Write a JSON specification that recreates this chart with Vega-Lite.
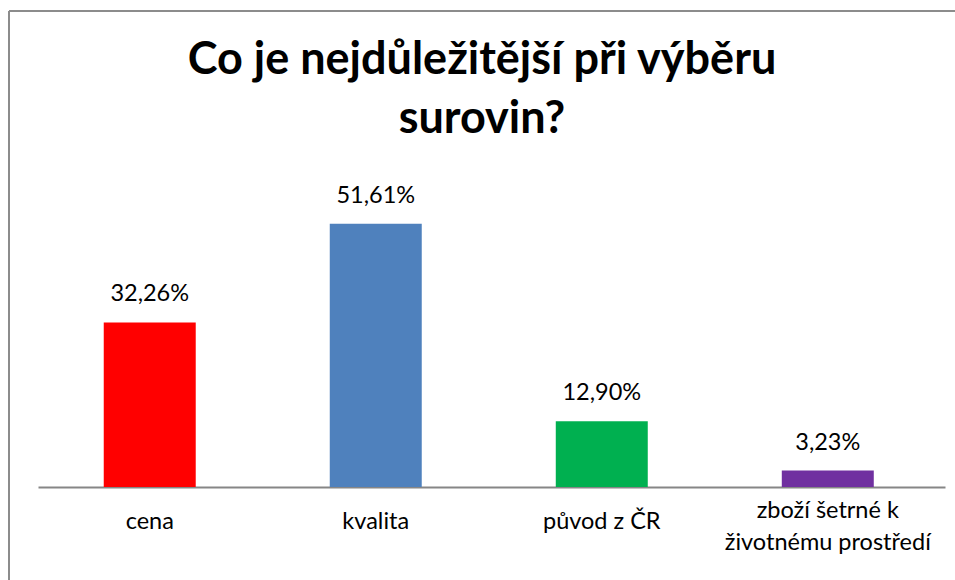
{
  "$schema": "https://vega.github.io/schema/vega-lite/v6.json",
  "width": 946,
  "height": 569,
  "autosize": {"type": "none"},
  "padding": {"left": 9, "top": 11, "right": 0, "bottom": 0},
  "background": "white",
  "config": {
    "view": {"stroke": "#8c8c8c", "strokeWidth": 2, "strokeDash": [946, 1515, 569, 0]},
    "locale": {"number": {"decimal": ",", "thousands": " ", "grouping": [3], "currency": ["", " Kč"]}}
  },
  "title": {
    "text": ["Co je nejdůležitější při výběru", "surovin?"],
    "font": "Lato",
    "fontSize": 45,
    "fontWeight": "bold",
    "color": "#000000",
    "anchor": "middle",
    "lineHeight": 59,
    "baseline": "top",
    "offset": -131
  },
  "data": {
    "values": [
      {"kategorie": "cena", "podil": 0.3226},
      {"kategorie": "kvalita", "podil": 0.5161},
      {"kategorie": "původ z ČR", "podil": 0.1290},
      {"kategorie": "zboží šetrné k životnému prostředí", "podil": 0.0323}
    ]
  },
  "encoding": {
    "x": {
      "field": "kategorie",
      "type": "nominal",
      "sort": null,
      "scale": {"range": [29, 936], "paddingInner": 0.593, "paddingOuter": 0.303, "align": 0.48},
      "axis": {
        "title": null,
        "domainColor": "#868686",
        "domainWidth": 2,
        "ticks": false,
        "tickSize": 0,
        "grid": false,
        "labelFont": "Lato",
        "labelFontSize": 23.5,
        "labelColor": "#000000",
        "labelAngle": 0,
        "labelBaseline": "alphabetic",
        "labelLimit": 0,
        "labelLineHeight": 32,
        "labelPadding": {"condition": {"test": "datum.value == 'zboží šetrné k životnému prostředí'", "value": 30}, "value": 41},
        "labelExpr": "datum.value == 'zboží šetrné k životnému prostředí' ? ['zboží šetrné k', 'životnému prostředí'] : datum.label",
        "offset": -93
      }
    },
    "y": {
      "field": "podil",
      "type": "quantitative",
      "scale": {"domain": [0, 0.6], "range": [476, 170], "nice": false},
      "axis": null
    }
  },
  "layer": [
    {
      "mark": {"type": "bar"},
      "encoding": {
        "color": {
          "field": "kategorie",
          "type": "nominal",
          "sort": null,
          "scale": {
            "domain": ["cena", "kvalita", "původ z ČR", "zboží šetrné k životnému prostředí"],
            "range": ["#FF0000", "#4F81BD", "#00B050", "#7030A0"]
          },
          "legend": null
        }
      }
    },
    {
      "mark": {"type": "text", "baseline": "alphabetic", "dy": -21, "font": "Lato", "fontSize": 23.5, "color": "#000000"},
      "encoding": {
        "text": {"field": "podil", "type": "quantitative", "format": ".2%"}
      }
    }
  ]
}
